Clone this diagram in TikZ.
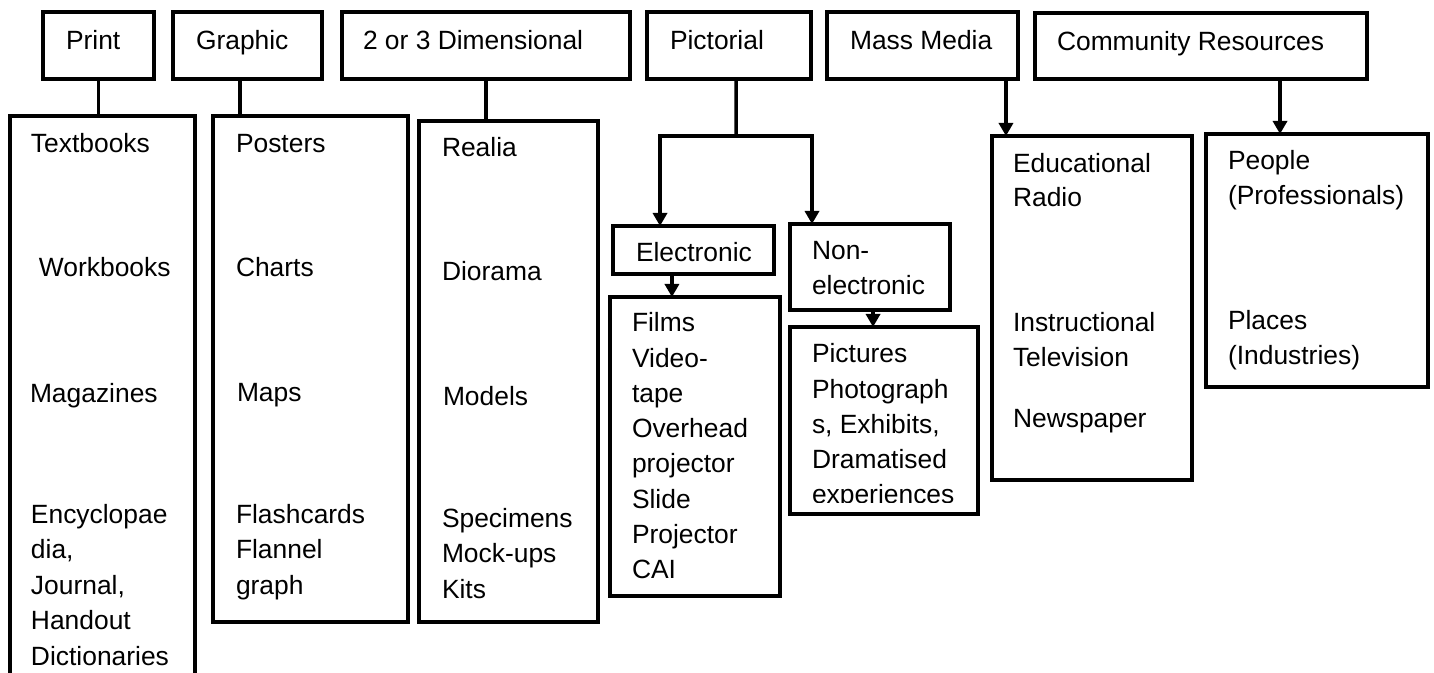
\documentclass[tikz,border=0pt]{standalone}
\usepackage{fontspec}
\setmainfont{Liberation Sans}
\usetikzlibrary{arrows.meta,fit,calc}
\begin{document}
\begin{tikzpicture}[x=0.5pt,y=-0.5pt,
  box/.style={draw, line width=1.75pt, inner sep=0pt, outer sep=0pt},
  frame/.style={inner sep=0pt, outer sep=0pt},
  lbl/.style={anchor=base west, inner sep=0pt, outer sep=0pt, font=\fontsize{13.2pt}{15pt}\selectfont},
  link/.style={line width=1.75pt},
  arr/.style={link, -{Triangle[width=7pt,length=6.5pt]}}]
\useasboundingbox (0,0) rectangle (1434,673);

% ---- category headers ----
\node[box, fit={(43,12)(154,79)}] (print) {};
\node[box, fit={(173,12)(322,79)}] (graphic) {};
\node[box, fit={(342,12)(630,79)}] (dim) {};
\node[box, fit={(647,12)(811,79)}] (pict) {};
\node[box, fit={(827,12)(1018,79)}] (mass) {};
\node[box, fit={(1035,13)(1367,79)}] (comm) {};

\node[lbl] (tprint) at (66,49.5) {Print};
\node[lbl] (tgraphic) at (196,49.5) {Graphic};
\node[lbl] (tdim) at (363,49.5) {2 or 3 Dimensional};
\node[lbl] (tpict) at (670,49.5) {Pictorial};
\node[lbl] (tmass) at (850,49.5) {Mass Media};
\node[lbl] (tcomm) at (1057,50.5) {Community Resources};

% ---- item lists ----
\node[frame, fit={(10,116)(195,673)}] (printlist) {};
\draw[link] (printlist.south west) -- (printlist.north west) -- (printlist.north east) -- (printlist.south east);
\node[box, fit={(213,116)(408,622)}] (graphiclist) {};
\node[box, fit={(419,121)(598,622)}] (dimlist) {};
\node[box, fit={(613,226)(774,274)}] (elec) {};
\node[box, fit={(790,224)(950,310)}] (nonelec) {};
\node[box, fit={(610,297)(780,596)}] (eleclist) {};
\node[box, fit={(790,327)(978,514)}] (neclist) {};
\node[box, fit={(992,136)(1192,480)}] (masslist) {};
\node[box, fit={(1206,134)(1428,387)}] (commlist) {};

% Print
\node[lbl] (p1) at (31,153) {Textbooks};
\node[lbl] (p2) at (39,277) {Workbooks};
\node[lbl] (p3) at (30,402) {Magazines};
\foreach \t [count=\i from 0] in {Encyclopae,{dia,},{Journal,},Handout,Dictionaries}
  \node[lbl] (pe\i) at (31,{523+35.5*\i}) {\t};

% Graphic
\node[lbl] (g1) at (236,153) {Posters};
\node[lbl] (g2) at (236,277) {Charts};
\node[lbl] (g3) at (237,401) {Maps};
\foreach \t [count=\i from 0] in {Flashcards,Flannel,graph}
  \node[lbl] (ge\i) at (236,{523+35.5*\i}) {\t};

% 2 or 3 Dimensional
\node[lbl] (d1) at (442,157) {Realia};
\node[lbl] (d2) at (442,281) {Diorama};
\node[lbl] (d3) at (443,406) {Models};
\foreach \t [count=\i from 0] in {Specimens,Mock-ups,Kits}
  \node[lbl] (de\i) at (442,{527+35.5*\i}) {\t};

% Pictorial
\node[lbl] (te) at (636,262) {Electronic};
\node[lbl] (tn1) at (812,260) {Non-};
\node[lbl] (tn2) at (812,295) {electronic};
\foreach \t [count=\i from 0] in {Films,Video-,tape,Overhead,projector,Slide,Projector,CAI}
  \node[lbl] (el\i) at (632,{332+35.2*\i}) {\t};
\begin{scope}
  \clip (790,320) rectangle (978,502);
  \foreach \t [count=\i from 0] in {Pictures,Photograph,{s, Exhibits,},Dramatised,experiences}
    \node[lbl] (ne\i) at (812,{363+35.1*\i}) {\t};
\end{scope}

% Mass Media
\node[lbl] (m1) at (1013,172.5) {Educational};
\node[lbl] (m2) at (1013,207) {Radio};
\node[lbl] (m3) at (1013,332) {Instructional};
\node[lbl] (m4) at (1013,367) {Television};
\node[lbl] (m5) at (1013,428) {Newspaper};

% Community Resources
\node[lbl] (c1) at (1228,170) {People};
\node[lbl] (c2) at (1228,205) {(Professionals)};
\node[lbl] (c3) at (1228,330) {Places};
\node[lbl] (c4) at (1228,364.5) {(Industries)};

% ---- connectors ----
\coordinate (gA) at ($(graphic.south west)!0.45!(graphic.south east)$);
\coordinate (pA) at ($(pict.south west)!0.543!(pict.south east)$);
\coordinate (pj) at (736,136);
\coordinate (mA) at ($(mass.south west)!0.937!(mass.south east)$);
\coordinate (cA) at ($(comm.south west)!0.738!(comm.south east)$);
\coordinate (eA) at ($(elec.north west)!0.292!(elec.north east)$);
\coordinate (nA) at ($(nonelec.north west)!0.1375!(nonelec.north east)$);
\coordinate (eB) at ($(elec.south west)!0.366!(elec.south east)$);
\coordinate (nB) at ($(nonelec.south west)!0.519!(nonelec.south east)$);

\draw[link] (print.south) -- (print.south |- printlist.north);
\draw[link] (gA) -- (gA |- graphiclist.north);
\draw[link] (dim.south) -- (dim.south |- dimlist.north);
\draw[link] (pA) -- (pj);
\draw[arr] (pj) -| (eA);
\draw[arr] (pj) -| (nA);
\draw[arr] (eB) -- (eB |- eleclist.north);
\draw[arr] (nB) -- (nB |- neclist.north);
\draw[arr] (mA) -- (mA |- masslist.north);
\draw[arr] (cA) -- (cA |- commlist.north);
\end{tikzpicture}
\end{document}
